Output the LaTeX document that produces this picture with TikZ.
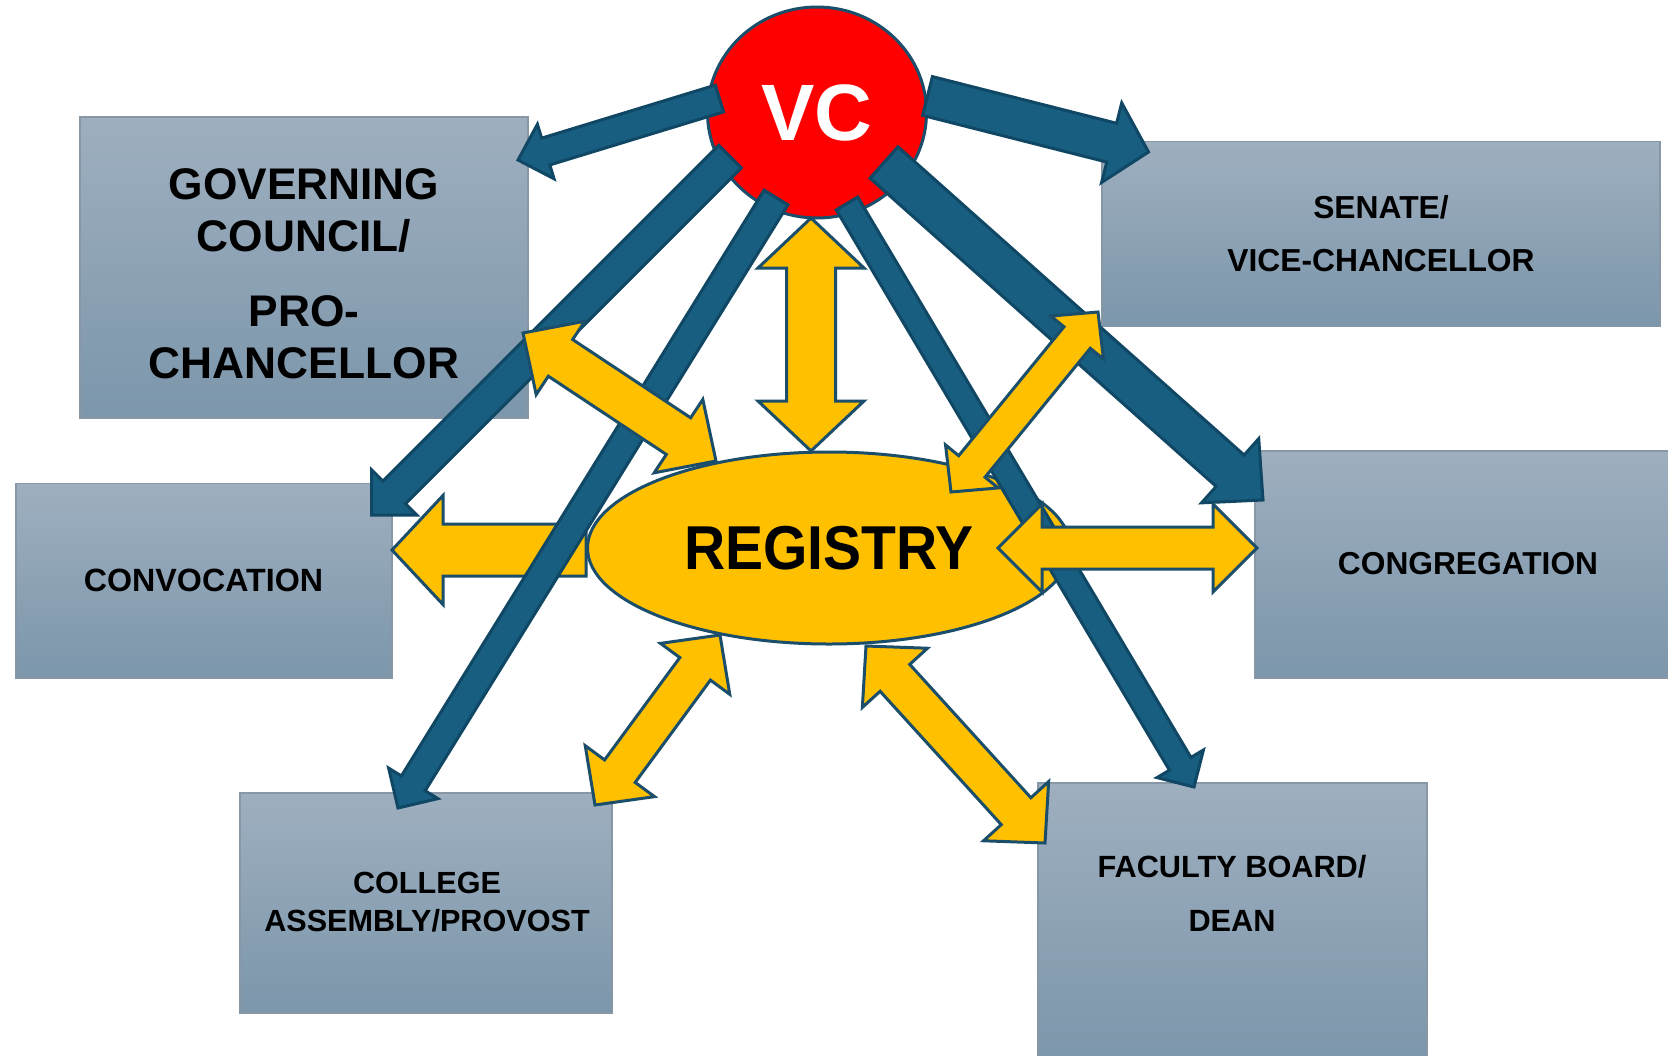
\documentclass[tikz,border=0pt]{standalone}
\usepackage{fontspec}
\setmainfont{Liberation Sans}
\usepackage{graphicx}
\usetikzlibrary{calc,shapes.geometric,shadings}
\definecolor{bluefill}{HTML}{175E80}
\definecolor{blueline}{HTML}{0F4764}
\definecolor{yelfill}{HTML}{FFC000}
\definecolor{yelline}{HTML}{1A4E6B}
\definecolor{boxtop}{HTML}{9EAFBF}
\definecolor{boxbot}{HTML}{7C96AB}
\definecolor{boxline}{HTML}{8797A5}
\definecolor{vcred}{HTML}{FF0000}

% single block arrow: style, tail, tip, shaft half width, head half width, head length
\newcommand{\mkarrow}[6]{%
  \coordinate (ma-p) at ($(#3)!#6pt!(#2)$);
  \draw[#1] ($(#2)!#4pt!90:(#3)$) -- ($(ma-p)!#4pt!90:(#3)$) -- ($(ma-p)!#5pt!90:(#3)$) -- (#3)
    -- ($(ma-p)!#5pt!-90:(#3)$) -- ($(ma-p)!#4pt!-90:(#3)$) -- ($(#2)!#4pt!-90:(#3)$) -- cycle;}
% double block arrow: style, tip A, tip B, shaft half width, head half width, head length
\newcommand{\mkdbl}[6]{%
  \coordinate (md-p) at ($(#3)!#6pt!(#2)$);
  \coordinate (md-q) at ($(#2)!#6pt!(#3)$);
  \draw[#1] (#2) -- ($(md-q)!#5pt!90:(#3)$) -- ($(md-q)!#4pt!90:(#3)$) -- ($(md-p)!#4pt!90:(#3)$)
    -- ($(md-p)!#5pt!90:(#3)$) -- (#3) -- ($(md-p)!#5pt!-90:(#3)$) -- ($(md-p)!#4pt!-90:(#3)$)
    -- ($(md-q)!#4pt!-90:(#3)$) -- ($(md-q)!#5pt!-90:(#3)$) -- cycle;}

\tikzset{
  bluearr/.style={fill=bluefill, draw=blueline, line width=3pt, line join=miter},
  yelarr/.style={fill=yelfill, draw=yelline, line width=3pt, line join=miter},
  unitbox/.style={rectangle, draw=boxline, line width=1.2pt, top color=boxtop, bottom color=boxbot, inner sep=0pt},
  lbl/.style={align=center, text=black, inner sep=0pt}
}

\begin{document}
\begin{tikzpicture}[x=1pt,y=-1pt]
\useasboundingbox (0,0) rectangle (1668,1055);
\fill[white] (0,0) rectangle (1668,1055);

% boxes
\node[unitbox, minimum width=448pt, minimum height=301pt] (gov) at (304,267.5) {};
\node[unitbox, minimum width=558pt, minimum height=184.5pt] (sen) at (1381,234) {};
\node[unitbox, minimum width=376pt, minimum height=194.5pt] (conv) at (204,580.75) {};
\node[unitbox, minimum width=420pt, minimum height=227pt] (cong) at (1465,564.5) {};
\node[unitbox, minimum width=372pt, minimum height=220pt] (col) at (426,903) {};
\node[unitbox, minimum width=389pt, minimum height=282pt] (fac) at (1232.5,924) {};

% box texts
\node[lbl, font=\fontsize{44.3pt}{52pt}\selectfont\bfseries] (gov-t) at (304,273.8)
  {GOVERNING\\COUNCIL/\\[22.5pt]PRO-\\CHANCELLOR};
\node[lbl, font=\fontsize{31.8pt}{52.6pt}\selectfont\bfseries] (sen-t) at (1381,233.5)
  {SENATE/\\VICE-CHANCELLOR};
\node[lbl, font=\fontsize{32.2pt}{38pt}\selectfont\bfseries] (conv-t) at (203.5,580) {CONVOCATION};
\node[lbl, font=\fontsize{31.7pt}{38pt}\selectfont\bfseries] (cong-t) at (1468,564) {CONGREGATION};
\node[lbl, font=\fontsize{30.6pt}{38pt}\selectfont\bfseries] (col-t) at (427,902)
  {COLLEGE\\ASSEMBLY/PROVOST};
\node[lbl, font=\fontsize{30.7pt}{54pt}\selectfont\bfseries] (fac-t) at (1232,893.5)
  {FACULTY BOARD/\\DEAN};

% VC circle
\node[ellipse, draw=yelline, line width=3pt, fill=vcred, minimum width=219pt, minimum height=211pt,
  inner sep=0pt, text=white, font=\fontsize{80pt}{90pt}\selectfont\bfseries] (vc) at (817,112.5) {VC};

% arrow end points
\coordinate (conv-a) at (586,550);   \coordinate (conv-b) at (392,550);
\coordinate (vg-a) at (719.5,98.5);  \coordinate (vg-b) at (518,160);
\coordinate (vs-a) at (927.5,96);    \coordinate (vs-b) at (1148.5,152);
\coordinate (vcv-a) at (730,156.5);  \coordinate (vcv-b) at (371.5,515);
\coordinate (vcl-a) at (776,197.5);  \coordinate (vcl-b) at (398,808);
\coordinate (vf-a) at (847,203.5);   \coordinate (vf-b) at (1194,787);
\coordinate (vcg-a) at (884,162.5);  \coordinate (vcg-b) at (1263,500);
\coordinate (rv-a) at (811,218);     \coordinate (rv-b) at (811,451);
\coordinate (rg-a) at (523,333);     \coordinate (rg-b) at (716,461);
\coordinate (rs-a) at (1098,312);    \coordinate (rs-b) at (951,492);
\coordinate (rc-a) at (998,548);     \coordinate (rc-b) at (1257,548);
\coordinate (rcl-a) at (720,635);    \coordinate (rcl-b) at (595,805);
\coordinate (rf-a) at (866,646);     \coordinate (rf-b) at (1045,843);

% registry -> convocation (under the ellipse)
\mkarrow{yelarr}{conv-a}{conv-b}{26}{54.5}{51}

% registry ellipse
\node[ellipse, draw=yelline, line width=3pt, fill=yelfill, minimum width=483pt, minimum height=192pt,
  inner sep=0pt, text=black, font=\fontsize{62pt}{70pt}\selectfont\bfseries] (reg) at (829,548)
  {\scalebox{0.92}[1]{REGISTRY}};

% blue arrows from VC
\mkarrow{bluearr}{vg-a}{vg-b}{14}{28.5}{29}
\mkarrow{bluearr}{vs-a}{vs-b}{20}{41}{38}
\mkarrow{bluearr}{vcv-a}{vcv-b}{16}{32}{32}
\mkarrow{bluearr}{vcl-a}{vcl-b}{14}{29}{29}
\mkarrow{bluearr}{vf-a}{vf-b}{12.5}{27}{27}
\mkarrow{bluearr}{vcg-a}{vcg-b}{21}{43}{44}

% yellow double arrows
\mkdbl{yelarr}{rv-a}{rv-b}{24.5}{53}{50}
\mkdbl{yelarr}{rg-a}{rg-b}{22}{44}{45}
\mkdbl{yelarr}{rs-a}{rs-b}{17}{34}{33}
\mkdbl{yelarr}{rc-a}{rc-b}{21}{44}{44}
\mkdbl{yelarr}{rcl-a}{rcl-b}{19}{43}{42}
\mkdbl{yelarr}{rf-a}{rf-b}{20}{44}{43}
\end{tikzpicture}
\end{document}
